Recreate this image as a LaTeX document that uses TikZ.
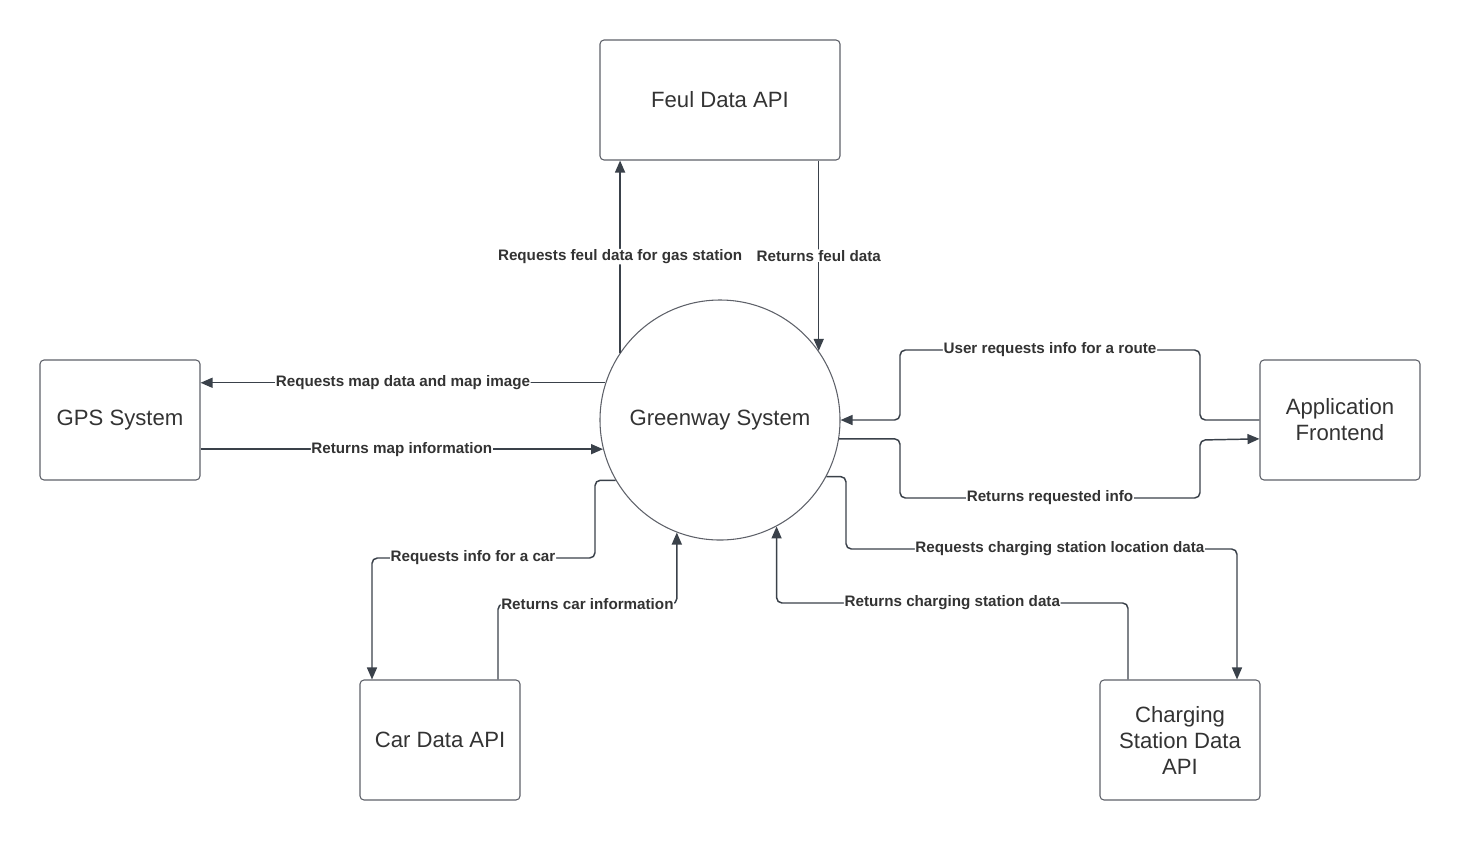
\documentclass[tikz,border=0pt]{standalone}
\usepackage{fontspec}
\setmainfont{Liberation Sans}
\usetikzlibrary{arrows.meta}
\definecolor{linec}{HTML}{3A414A}
\definecolor{boxc}{HTML}{5E6169}
\definecolor{txtc}{HTML}{333333}
\tikzset{
  box/.style={draw=boxc, line width=0.8pt, rounded corners=3pt, minimum width=120pt, minimum height=90pt, align=center, font=\fontsize{16.6}{19.5}\selectfont, text=txtc},
  widebox/.style={box, minimum width=180pt},
  proc/.style={draw=boxc, line width=0.8pt, circle, minimum size=180pt, font=\fontsize{16.6}{19.5}\selectfont, text=txtc, inner sep=0pt},
  arr/.style={draw=linec, line width=1.1pt, rounded corners=4pt, -{Triangle[length=9pt,width=7.5pt]}},
  lbl/.style={fill=white, inner sep=0.5pt, font=\bfseries\fontsize{11.4}{13}\selectfont, text=txtc},
}
\begin{document}
\begin{tikzpicture}[x=0.75pt,y=-0.75pt]
\useasboundingbox (0,0) rectangle (1460,840);
\node[widebox] (feul) at (720,100) {Feul Data API};
\node[box] (gps) at (120,420) {GPS System};
\node[box] (app) at (1340,420) {Application\\Frontend};
\node[box] (car) at (440,740) {Car Data API};
\node[box] (cs) at (1180,740) {Charging\\Station Data\\API};
\node[proc] (ctr) at (720,420) {Greenway System};

% Feul
\draw[arr] (ctr.146.4) -- node[lbl]{Requests feul data for gas station} (ctr.146.4 |- feul.south);
\draw[arr] (feul.south -| ctr.35.2) -- node[lbl]{Returns feul data} (ctr.35.2);

% GPS
\draw[arr] (ctr.162) -- node[lbl]{Requests map data and map image} (ctr.162 -| gps.east);
\draw[arr] (gps.east |- ctr.194.5) -- node[lbl]{Returns map information} (ctr.194.5);

% App
\draw[arr] (app.west) -- (1200,420) -- (1200,350) -- node[lbl]{User requests info for a route} (900,350) -- (900,420) -- (ctr.east);
\draw[arr] (ctr.-9.6) -- (ctr.-9.6 -| 900,0) -- (900,498) -- node[lbl]{Returns requested info} (1200,498) -- (1200,440) -- (app.west |- ctr.-9.6);

% Charging station
\draw[arr] (ctr.-28.9) -- (ctr.-28.9 -| 846,0) -- (846,549) -- node[lbl,pos=0.547]{Requests charging station location data} (1237,549) -- (cs.north -| 1237,0);
\draw[arr] (cs.north -| 1128,0) -- (1128,603) -- node[lbl]{Returns charging station data} (ctr.-62.2 |- 0,603) -- (ctr.-62.2);

% Car
\draw[arr] (ctr.210.6) -- (ctr.210.6 -| 595,0) -- (595,558) -- node[lbl,pos=0.547]{Requests info for a car} (372,558) -- (car.north -| 372,0);
\draw[arr] (car.north -| 498,0) -- (498,604) -- node[lbl]{Returns car information} (ctr.249.5 |- 0,604) -- (ctr.249.5);
\end{tikzpicture}
\end{document}
